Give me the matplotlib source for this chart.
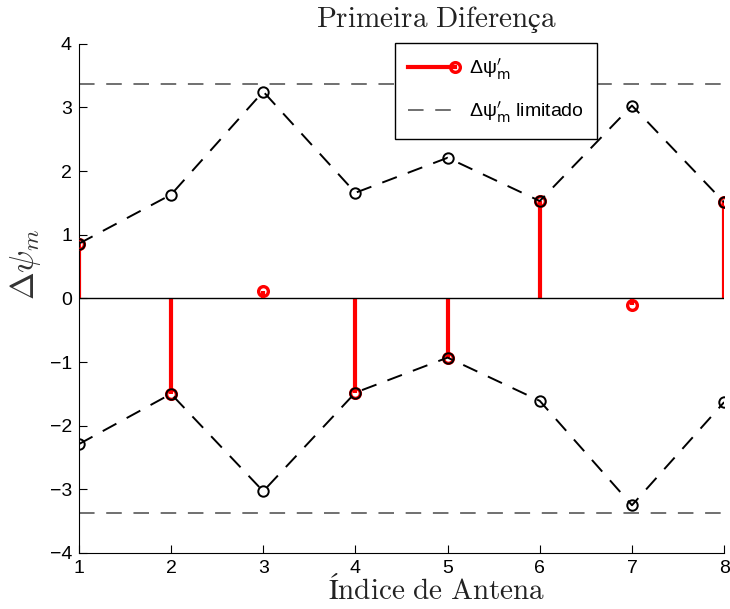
import numpy as np
import matplotlib
matplotlib.use("Agg")
import matplotlib.pyplot as plt
from matplotlib.lines import Line2D
from matplotlib.legend_handler import HandlerBase

# dados
indice = [1, 2, 3, 4, 5, 6, 7, 8]
delta_psi = [0.86, -1.50, 0.11, -1.48, -0.93, 1.53, -0.11, 1.51]
limite_sup = [0.86, 1.63, 3.25, 1.66, 2.21, 1.53, 3.03, 1.51]
limite_inf = [-2.29, -1.50, -3.03, -1.48, -0.93, -1.61, -3.25, -1.63]
limite_max = 3.37

plt.rcParams['font.family'] = ['Liberation Sans', 'DejaVu Sans']


class StemHandler(HandlerBase):
    # linha vermelha com o marcador na ponta direita (estilo MATLAB)
    def create_artists(self, legend, orig_handle, xdescent, ydescent,
                       width, height, fontsize, trans):
        y = height / 2 - ydescent
        ln = Line2D([-xdescent, width - xdescent], [y, y], color='red', lw=3)
        mk = Line2D([width - xdescent], [y], marker='o', ms=7, mew=2.4,
                    mec='red', mfc='none', ls='none')
        ln.set_transform(trans)
        mk.set_transform(trans)
        return [ln, mk]


fig = plt.figure(figsize=(7.3, 6.09), dpi=100)
ax = fig.add_axes([0.108, 0.092, 0.884, 0.836])

# hastes
ax.vlines(indice, 0, delta_psi, color='red', lw=3, zorder=2)
ax.axhline(0, color='black', lw=1, zorder=2)
ax.plot(indice, delta_psi, 'o', ms=7, mew=2.4, mec='red', mfc='none',
        ls='none', zorder=3)

ax.plot(indice, limite_sup, '--o', color='black', lw=1.4, ms=7.5, mfc='none',
        mew=1.4, dashes=(8, 6), zorder=4)
ax.plot(indice, limite_inf, '--o', color='black', lw=1.4, ms=7.5, mfc='none',
        mew=1.4, dashes=(8, 6), zorder=4)

ax.axhline(limite_max, color='#707070', lw=1.4, dashes=(8, 6), zorder=1)
ax.axhline(-limite_max, color='#707070', lw=1.4, dashes=(8, 6), zorder=1)

ax.set_xlim(1, 8)
ax.set_ylim(-4, 4)
ax.set_xticks(indice)
ax.set_yticks(np.arange(-4, 5, 1))
ax.tick_params(direction='in', length=6, labelsize=14, pad=5)
ax.spines['top'].set_visible(False)
ax.spines['right'].set_visible(False)

ax.text(0.555, 1.033, r'$\mathrm{Primeira\ Diferença}$', transform=ax.transAxes,
        ha='center', va='baseline', fontsize=21, math_fontfamily='cm',
        color='#222222')
ax.text(0.555, -0.091, r'$\mathrm{Índice\ de\ Antena}$', transform=ax.transAxes,
        ha='center', va='baseline', fontsize=21, math_fontfamily='cm',
        color='#222222')
ax.set_ylabel(r'$\Delta\psi_m$', fontsize=24, math_fontfamily='cm',
              color='#333333')
ax.yaxis.set_label_coords(-0.055, 0.566)

h1 = Line2D([], [], color='red')
h2 = Line2D([], [], color='#707070', lw=1.4, dashes=(8, 6))
leg = ax.legend([h1, h2], [r"Δψ$^{\prime}_{\mathrm{m}}$",
                           r"Δψ$^{\prime}_{\mathrm{m}}$ limitado"],
                handler_map={h1: StemHandler()}, loc='upper right',
                bbox_to_anchor=(0.803, 1.002), borderaxespad=0,
                fontsize=14, frameon=True,
                fancybox=False, edgecolor='black', framealpha=1,
                handlelength=2.4, handletextpad=0.7,
                borderpad=0.7, labelspacing=0.9)
for t in leg.get_texts():
    t.set_math_fontfamily('dejavusans')
leg.get_frame().set_linewidth(1)

fig.savefig('out.png', dpi=100)
